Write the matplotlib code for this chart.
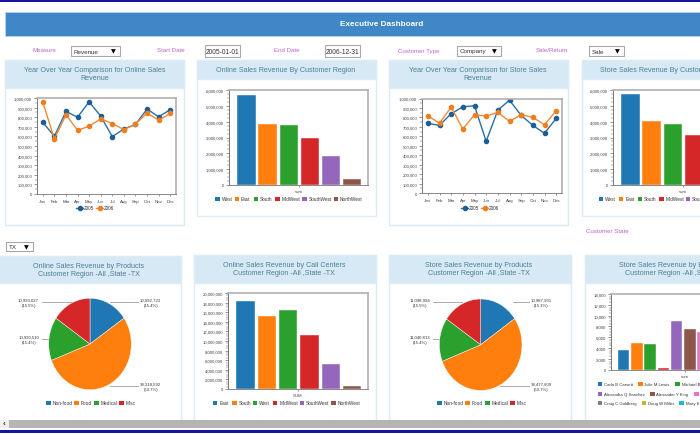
import matplotlib
matplotlib.use('Agg')
import matplotlib.pyplot as plt
from matplotlib.patches import Rectangle
from matplotlib.ticker import FuncFormatter, MultipleLocator, AutoMinorLocator

plt.rcParams['font.family'] = ['Liberation Sans', 'DejaVu Sans']

# ---- data ----
months = ['Jan', 'Feb', 'Mar', 'Apr', 'May', 'Jun', 'Jul', 'Aug', 'Sep', 'Oct', 'Nov', 'Dec']
years = ['2005', '2006']

online_2005 = [748000, 600000, 860000, 800000, 960000, 811000, 598000, 678000, 724000, 885000, 804000, 878000]
online_2006 = [958000, 573000, 825000, 664000, 706000, 783000, 734000, 671000, 727000, 843000, 769000, 839000]
store_2005 = [737000, 716000, 839000, 912000, 923000, 547000, 877000, 982000, 821000, 716000, 632000, 789000]
store_2006 = [818000, 737000, 909000, 677000, 828000, 814000, 853000, 758000, 828000, 800000, 723000, 870000]

regions = ['West', 'East', 'South', 'MidWest', 'SouthWest', 'NorthWest']
online_region = [5660000, 3850000, 3770000, 2970000, 1850000, 400000]
store_region = [5770000, 4020000, 3850000, 3160000, 1900000, 400000]

call_regions = ['East', 'South', 'West', 'MidWest', 'SouthWest', 'NorthWest']
call_center = [18300000, 15200000, 16500000, 11300000, 5300000, 560000]

products = ['Non-food', 'Food', 'Medical', 'Misc']
online_products = [10992723, 38318592, 10990510, 10993027]
online_pct = ['15.4%', '53.7%', '15.4%', '15.5%']
store_products = [10987991, 38477609, 11040813, 11098994]
store_pct = ['15.3%', '53.7%', '15.4%', '15.5%']

employee_sales = [3700, 5000, 4700, 400, 9000, 7600, 6900, 5000, 4000, 3000]
employee_row1 = ['Carla B Carsett', 'Julie M Lewis', 'Michael B']
employee_row2 = ['Alexandra Q Sanchez', 'Alexander Y King', '']
employee_row3 = ['Craig C Goldberg', 'Doug W Miller', 'Mary E']

# ---- colours ----
C10 = ['#1f77b4', '#ff7f0e', '#2ca02c', '#d62728', '#9467bd', '#8c564b',
       '#e377c2', '#7f7f7f', '#bcbd22', '#17becf']
LINE_BLUE = '#2a6fa5'
LINE_ORANGE = '#ec8a3a'
HEAD = '#d6e9f4'
BORDER = '#dcecf5'
TITLE = '#4d7f98'
LABEL = '#c25fcb'
TICK = '#444444'

fig = plt.figure(figsize=(7, 4.35), dpi=100, facecolor='white')

# page layer in pixel coordinates
page = fig.add_axes([0, 0, 1, 1])
page.set_xlim(0, 700)
page.set_ylim(435, 0)
page.axis('off')


def box(x0, y0, x1, y1, **kw):
    page.add_patch(Rectangle((x0, y0), x1 - x0, y1 - y0, **kw))


def chart_axes(x0, y0, x1, y1):
    ax = fig.add_axes([x0 / 700, 1 - y1 / 435, (x1 - x0) / 700, (y1 - y0) / 435])
    ax.patch.set_alpha(0)
    return ax


def panel(x0, y0, x1, y1, head_y, title, cx):
    box(x0, y0, x1, y1, fc='white', ec=BORDER, lw=1)
    box(x0, y0, x1, head_y, fc=HEAD, ec=BORDER, lw=1)
    page.text(cx, (y0 + head_y) / 2, title, color=TITLE, fontsize=5.1, ha='center',
              va='center', linespacing=1.2)


def select(x0, y0, x1, y1, value):
    box(x0, y0, x1, y1, fc='white', ec='#a8a8a8', lw=0.8)
    page.text(x0 + 3, (y0 + y1) / 2, value, fontsize=4.5, color='#333333', va='center')
    page.text(x1 - 7, (y0 + y1) / 2, '\u25bc', fontsize=4.5, color='black', va='center',
              ha='center', family='DejaVu Sans')


def date_input(x0, y0, x1, y1, value):
    box(x0, y0, x1, y1, fc='white', ec='#a8a8a8', lw=0.8)
    page.text((x0 + x1) / 2, (y0 + y1) / 2, value, fontsize=4.8, color='#333333',
              va='center', ha='center')


def style_axes(ax):
    for side in ['top', 'right']:
        ax.spines[side].set_color('#b0b0b0')
        ax.spines[side].set_linewidth(1.2)
    ax.spines['left'].set_color('#777777')
    ax.spines['left'].set_linewidth(0.7)
    ax.spines['bottom'].set_color('#888888')
    ax.spines['bottom'].set_linewidth(0.7)
    ax.yaxis.set_major_formatter(FuncFormatter(lambda v, p: f'{int(v):,}'))
    ax.tick_params(axis='y', labelsize=3.1, length=2.5, width=0.4, pad=1, colors=TICK)
    ax.tick_params(axis='y', which='minor', length=1.2, width=0.3, colors=TICK)


def square_legend(names, colors, xs, y, size=3.4):
    for name, col, x in zip(names, colors, xs):
        box(x, y - 2, x + 4.5, y + 2, fc=col, ec='none')
        page.text(x + 6.5, y, name, fontsize=size, color='#333333', va='center')


def line_chart(x0, y0, x1, y1, s1, s2, leg_x):
    ax = chart_axes(x0, y0, x1, y1)
    ax.plot(months, s1, color=LINE_BLUE, lw=1.0, marker='o', ms=3, mec='#1c5f96', mfc='#1c5f96')
    ax.plot(months, s2, color=LINE_ORANGE, lw=1.0, marker='o', ms=3, mec='#ee7f1f', mfc='#ee7f1f')
    ax.set_xlim(-0.5, 11.5)
    ax.set_ylim(0, 1000000)
    ax.yaxis.set_major_locator(MultipleLocator(100000))
    ax.yaxis.set_minor_locator(AutoMinorLocator(2))
    style_axes(ax)
    ax.tick_params(axis='x', labelsize=3.2, length=1.5, width=0.4, pad=2, colors=TICK)
    y = 209
    for i, (label, col, mc) in enumerate(zip(years, [LINE_BLUE, LINE_ORANGE], ['#1c5f96', '#ee7f1f'])):
        lx = leg_x + i * 20
        page.plot([lx, lx + 7], [y, y], color=col, lw=1.0, zorder=3)
        page.plot([lx + 3.5], [y], marker='o', ms=3, color=mc, zorder=4)
        page.text(lx + 8, y, label, fontsize=3.4, color='#333333', va='center')


def bar_chart(x0, y0, x1, y1, values, ymax, step, xname, left=-0.83, right=5.75):
    ax = chart_axes(x0, y0, x1, y1)
    ax.bar(range(len(values)), values, width=0.87, color=C10[:len(values)],
           edgecolor='white', linewidth=0.3)
    ax.set_xlim(left, right)
    ax.set_ylim(0, ymax)
    ax.yaxis.set_major_locator(MultipleLocator(step))
    ax.yaxis.set_minor_locator(AutoMinorLocator(4))
    style_axes(ax)
    ax.set_xticks([(left + right) / 2])
    ax.set_xticklabels([xname])
    ax.tick_params(axis='x', labelsize=3.1, length=1.5, width=0.4, pad=1.5, colors=TICK)


def pie_chart(cx, cy, values, pct, label_pos, leaders):
    ax = chart_axes(cx - 41.3, cy - 45.7, cx + 41.3, cy + 45.7)
    ax.pie(values, colors=C10[:4], startangle=90, counterclock=False, radius=1,
           wedgeprops={'linewidth': 0.3, 'edgecolor': 'white'})
    ax.set_aspect('auto')
    ax.set_xlim(-1, 1)
    ax.set_ylim(-1, 1)
    for val, p, (x, y, ha), (l0, l1) in zip(values, pct, label_pos, leaders):
        page.text(x, y, f'{val:,}\n({p})', fontsize=3.1, color='#333333', ha=ha,
                  va='center', multialignment='center', linespacing=1.35)
        page.plot([l0, l1], [y, y], color='#aaaaaa', lw=0.7)


# ---- page frame ----
box(0, 1, 700, 3, fc='#1414a0', ec='none')
box(5, 13, 700, 37, fc='#3f87c7', ec='#b9d6ea', lw=0.6)
page.text(382, 24.5, 'Executive Dashboard', color='white', fontsize=5.9, fontweight='bold',
          ha='center', va='center')

# ---- filters ----
for text, x, y in [('Measure', 44, 51), ('Start Date', 171, 51), ('End Date', 287, 51),
                   ('Customer Type', 419, 51), ('Sale/Return', 552, 51), ('Customer State', 607, 232)]:
    page.text(x, y, text, color=LABEL, fontsize=4.4, ha='center', va='center')
select(71, 47, 120, 57, 'Revenue')
date_input(205, 46, 240, 58, '2005-01-01')
date_input(325, 46, 360, 58, '2006-12-31')
select(457, 47, 501, 57, 'Company')
select(589, 47, 624, 57, 'Sale')
select(6, 243, 33, 252, 'TX')

# ---- top row ----
panel(5, 61, 184, 226, 89, 'Year Over Year Comparison for Online Sales\nRevenue', 94.5)
panel(197, 61, 376, 217, 80, 'Online Sales Revenue By Customer Region', 286)
panel(389, 61, 568, 226, 89, 'Year Over Year Comparison for Store Sales\nRevenue', 478)
panel(582, 61, 762, 217, 80, 'Store Sales Revenue By Customer Region', 668)

line_chart(37, 99, 176, 195, online_2005, online_2006, 76)
bar_chart(229, 91, 368, 186, online_region, 6000000, 1000000, 'sum')
square_legend(regions, C10, [215, 234.5, 253.5, 275, 302, 333.5], 200)
line_chart(422, 99.5, 562, 194, store_2005, store_2006, 461)
bar_chart(613, 91, 752, 186, store_region, 6000000, 1000000, 'sum')
square_legend(regions, C10, [598.7, 618.7, 637.7, 659, 685.7, 717], 200)

# ---- bottom row ----
panel(-2, 257, 181, 425, 284, 'Online Sales Revenue by Products\nCustomer Region -All ,State -TX', 89)
panel(194, 256, 376, 425, 284, 'Online Sales Revenue by Call Centers\nCustomer Region -All ,State -TX', 284)
panel(389, 256, 571, 425, 284, 'Store Sales Revenue by Products\nCustomer Region -All ,State -TX', 479)
panel(585, 256, 770, 425, 284, 'Store Sales Revenue by Employees\nCustomer Region -All ,State -TX', 676)

pie_chart(90, 345, online_products, online_pct,
          [(140, 303, 'left'), (140, 387, 'left'), (39, 340, 'right'), (39, 303, 'right')],
          [(110, 138), (110, 138), (42, 50), (42, 72)])
square_legend(products, C10, [46, 74, 94, 119], 404)

bar_chart(228, 294, 368, 390, call_center, 20000000, 2000000, 'SUM')
square_legend(call_regions, C10, [212.7, 232, 252.7, 272.7, 299.7, 331], 404)

pie_chart(480.7, 345.7, store_products, store_pct,
          [(531, 303, 'left'), (531, 387, 'left'), (430.7, 340, 'right'), (430.7, 303, 'right')],
          [(513, 529), (500, 529), (433, 441), (433, 462)])
square_legend(products, C10, [437, 465, 485, 510], 404)

bar_chart(611, 295, 759, 370.7, employee_sales, 14000, 2000, 'sum', left=-0.95, right=10.2)
square_legend(employee_row1, C10[:3], [597.7, 638, 675], 385, size=3.05)
square_legend(employee_row2, C10[4:7], [597.7, 650, 694], 395, size=3.05)
square_legend(employee_row3, C10[7:], [597.7, 641.7, 679], 404, size=3.05)

# ---- scrollbar + bottom line ----
box(0, 421, 700, 429, fc='#f0f0f0', ec='none')
box(9, 421, 700, 429, fc='#b5b5b5', ec='none')
page.text(4, 425, '\u2039', fontsize=6, color='#333333', ha='center', va='center', fontweight='bold')
box(0, 431, 700, 434, fc='#1414a0', ec='none')

fig.savefig('out.png', dpi=100)
